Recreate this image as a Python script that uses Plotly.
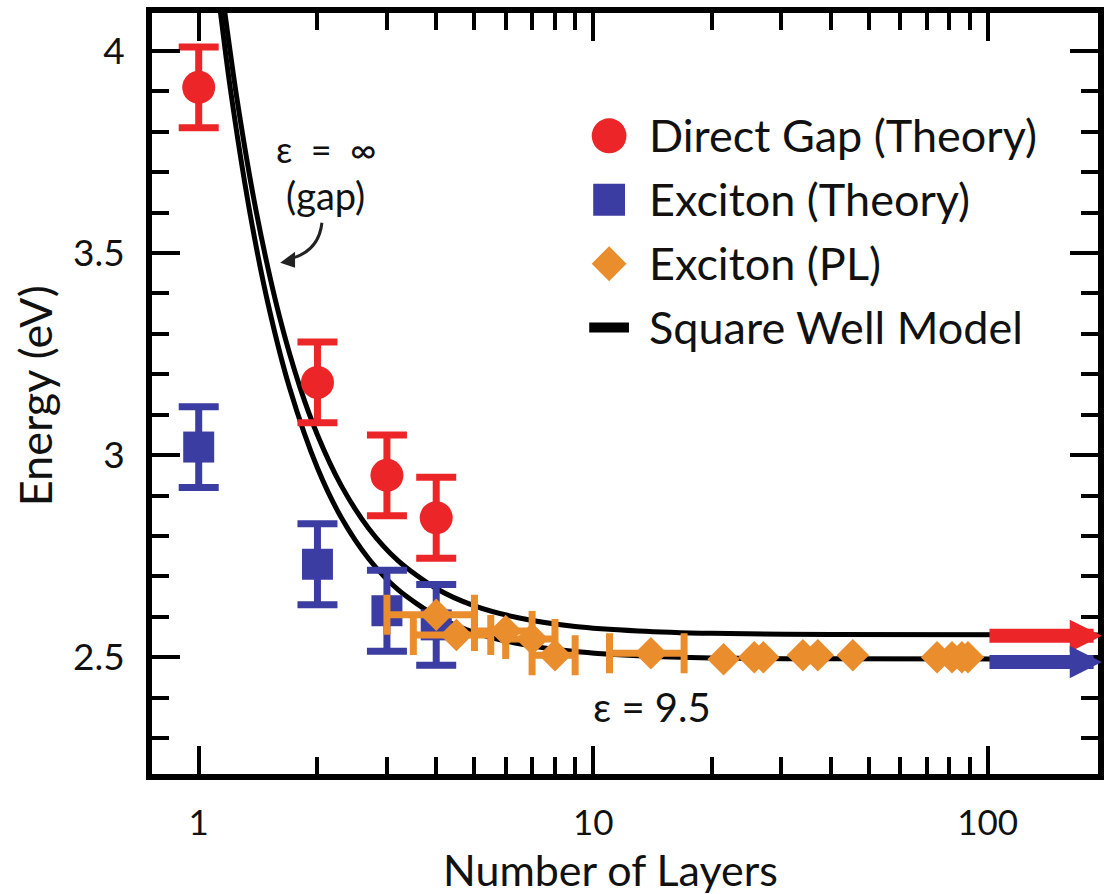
import plotly.graph_objects as go

# ---------------- data ----------------
layers_theory = [1, 2, 3, 4]
direct_gap_theory = [3.91, 3.18, 2.95, 2.845]
direct_gap_err = [0.1, 0.1, 0.1, 0.1]
exciton_theory = [3.02, 2.73, 2.615, 2.58]
exciton_theory_err = [0.1, 0.1, 0.1, 0.1]

pl_layers_a = [4.0, 4.5, 6.0, 7.0, 8.0, 14.0]
pl_energy_a = [2.605, 2.555, 2.565, 2.545, 2.505, 2.51]
pl_layers_err_a = [1.0, 1.0, 1.0, 1.0, 1.0, 3.0]
pl_layers_b = [21.4, 25.6, 27.0, 34.0, 37.1, 45.5, 74.4, 81.2, 86.0, 89.1]
pl_energy_b = [2.495, 2.50, 2.50, 2.505, 2.505, 2.505, 2.50, 2.50, 2.50, 2.50]

# square-well model, eps = infinity (gap) and eps = 9.5 (exciton)
well_gap_layers = [1.15, 1.25, 1.4, 1.6, 1.8, 2.0, 2.3, 2.7, 3.2, 4.0, 5.0, 6.5, 9.0, 13, 20, 40, 200]
well_gap_energy = [4.136, 3.882, 3.601, 3.345, 3.172, 3.050, 2.924, 2.818, 2.739, 2.670, 2.627,
                   2.597, 2.576, 2.565, 2.559, 2.556, 2.555]
well_exc_layers = [1.1, 1.2, 1.35, 1.5, 1.7, 2.0, 2.3, 2.7, 3.2, 4.0, 5.0, 6.5, 9.0, 13, 20, 40, 200]
well_exc_energy = [4.206, 3.914, 3.597, 3.373, 3.166, 2.968, 2.845, 2.743, 2.667, 2.602, 2.561,
                   2.533, 2.514, 2.5035, 2.498, 2.496, 2.495]

bulk_energy = [2.553, 2.488]          # bulk direct gap (red), bulk exciton (blue)

x_major_ticks = [1, 10, 100]
x_major_labels = ["1", "10", "100"]
x_minor_ticks = [2, 3, 4, 5, 6, 7, 8, 9, 20, 30, 40, 50, 60, 70, 80, 90]
y_major_ticks = [2.5, 3, 3.5, 4]
y_major_labels = ["2.5", "3", "3.5", "4"]

legend_labels = ["Direct Gap (Theory)", "Exciton (Theory)", "Exciton (PL)", "Square Well Model"]

# ---------------- style ----------------
RED = "#EB2528"
BLUE = "#3C3DA3"
ORANGE = "#E98D2D"
FONT = "Lato"
INK = "#111111"
NB = "\u00a0"

W, H = 1111, 894
PL, PR, PT, PB = 152, 1104, 12, 774


def px(x):
    return (x - PL) / (PR - PL)


def py(y):
    return (PB - y) / (PB - PT)


fig = go.Figure()

# square-well model curves
for xs, ys in [(well_gap_layers, well_gap_energy), (well_exc_layers, well_exc_energy)]:
    fig.add_trace(go.Scatter(x=xs, y=ys, mode="lines",
                             line=dict(color="black", width=5, shape="spline", smoothing=0.8),
                             showlegend=False, hoverinfo="skip"))

fig.add_trace(go.Scatter(
    x=layers_theory, y=direct_gap_theory, mode="markers", name=legend_labels[0],
    marker=dict(symbol="circle", size=33, color=RED),
    error_y=dict(type="data", array=direct_gap_err, color=RED, thickness=7, width=20),
    showlegend=False))

fig.add_trace(go.Scatter(
    x=layers_theory, y=exciton_theory, mode="markers", name=legend_labels[1],
    marker=dict(symbol="square", size=31, color=BLUE),
    error_y=dict(type="data", array=exciton_theory_err, color=BLUE, thickness=7, width=20),
    showlegend=False))

fig.add_trace(go.Scatter(
    x=pl_layers_a, y=pl_energy_a, mode="markers", name=legend_labels[2],
    marker=dict(symbol="diamond", size=25, color=ORANGE),
    error_x=dict(type="data", array=pl_layers_err_a, color=ORANGE, thickness=7, width=20),
    showlegend=False))

fig.add_trace(go.Scatter(
    x=pl_layers_b, y=pl_energy_b, mode="markers", name=legend_labels[2],
    marker=dict(symbol="diamond", size=25, color=ORANGE),
    showlegend=False))

shapes = []
annotations = []

# bulk arrows
for val, col in zip(bulk_energy, [RED, BLUE]):
    annotations.append(dict(x=px(1108), xref="paper", y=val, yref="y", text="",
                            showarrow=True, ax=-114, ay=0, axref="pixel", ayref="pixel",
                            arrowhead=2, arrowsize=0.46, arrowwidth=14, arrowcolor=col,
                            standoff=0, startstandoff=0))

# custom legend
rows = [135, 199, 263, 327]
lx = 612
shapes.append(dict(type="circle", xref="paper", yref="paper",
                   x0=px(lx - 17.5), x1=px(lx + 17.5), y0=py(rows[0] + 17.5), y1=py(rows[0] - 17.5),
                   fillcolor=RED, line=dict(width=0)))
shapes.append(dict(type="rect", xref="paper", yref="paper",
                   x0=px(lx - 16), x1=px(lx + 16), y0=py(rows[1] + 16), y1=py(rows[1] - 16),
                   fillcolor=BLUE, line=dict(width=0)))
d = 17.5
shapes.append(dict(type="path", xref="paper", yref="paper",
                   path=(f"M {px(lx - d)} {py(rows[2])} L {px(lx)} {py(rows[2] - d)} "
                         f"L {px(lx + d)} {py(rows[2])} L {px(lx)} {py(rows[2] + d)} Z"),
                   fillcolor=ORANGE, line=dict(width=0)))
shapes.append(dict(type="rect", xref="paper", yref="paper",
                   x0=px(lx - 20), x1=px(lx + 20), y0=py(rows[3] + 5), y1=py(rows[3] - 5),
                   fillcolor="black", line=dict(width=0)))
for r, lab in zip(rows, legend_labels):
    annotations.append(dict(x=px(650), y=py(r - 1), xref="paper", yref="paper", text=lab,
                            showarrow=False, xanchor="left", yanchor="middle",
                            font=dict(family=FONT, size=45, color=INK)))

# curve labels
annotations.append(dict(x=px(328), y=py(148), xref="paper", yref="paper",
                        text=f"ε{NB}{NB}={NB}{NB}∞",
                        showarrow=False, xanchor="center", yanchor="middle",
                        font=dict(family=FONT, size=36, color=INK)))
annotations.append(dict(x=px(327), y=py(194), xref="paper", yref="paper", text="(gap)",
                        showarrow=False, xanchor="center", yanchor="middle",
                        font=dict(family=FONT, size=38, color=INK)))
annotations.append(dict(x=px(655), y=py(707), xref="paper", yref="paper",
                        text=f"ε{NB}={NB}9.5",
                        showarrow=False, xanchor="center", yanchor="middle",
                        font=dict(family=FONT, size=40, color=INK)))

# curved pointer arrow
shapes.append(dict(type="path", xref="paper", yref="paper",
                   path=f"M {px(323)} {py(222)} Q {px(320)} {py(250)} {px(292)} {py(258)}",
                   line=dict(color="#222222", width=3)))
shapes.append(dict(type="path", xref="paper", yref="paper",
                   path=(f"M {px(281)} {py(262)} L {px(296)} {py(251)} "
                         f"L {px(296)} {py(267)} Z"),
                   fillcolor="#222222", line=dict(width=0)))

# axis titles
annotations.append(dict(x=px(613), y=py(870), xref="paper", yref="paper", text="Number of Layers",
                        showarrow=False, xanchor="center", yanchor="middle",
                        font=dict(family=FONT, size=43, color=INK)))
annotations.append(dict(x=px(35), y=py(395), xref="paper", yref="paper", text="Energy (eV)",
                        textangle=-90, showarrow=False, xanchor="center", yanchor="middle",
                        font=dict(family=FONT, size=45, color=INK)))

fig.update_layout(
    width=W, height=H,
    margin=dict(l=PL, r=W - PR, t=PT, b=H - PB, pad=0),
    paper_bgcolor="white", plot_bgcolor="white",
    showlegend=False,
    shapes=shapes, annotations=annotations,
    font=dict(family=FONT, color=INK),
)

fig.update_xaxes(
    type="log", range=[-0.1184, 2.2796],
    showline=True, linewidth=6, linecolor="black", mirror="allticks",
    ticks="inside", ticklen=28, tickwidth=4, tickcolor="black",
    tickvals=x_major_ticks, ticktext=x_major_labels,
    tickfont=dict(family=FONT, size=35, color=INK), ticklabelstandoff=13,
    minor=dict(ticks="inside", ticklen=17, tickwidth=4, tickcolor="black", tickvals=x_minor_ticks,
               showgrid=False),
    showgrid=False, zeroline=False,
)
fig.update_yaxes(
    range=[2.211, 4.094],
    showline=True, linewidth=6, linecolor="black", mirror="allticks",
    ticks="inside", ticklen=28, tickwidth=4, tickcolor="black",
    tickvals=y_major_ticks, ticktext=y_major_labels,
    tickfont=dict(family=FONT, size=37, color=INK), ticklabelstandoff=14,
    minor=dict(ticks="inside", ticklen=17, tickwidth=4, tickcolor="black", dtick=0.1, tick0=0,
               showgrid=False),
    showgrid=False, zeroline=False,
)

fig.write_html("out.html")
